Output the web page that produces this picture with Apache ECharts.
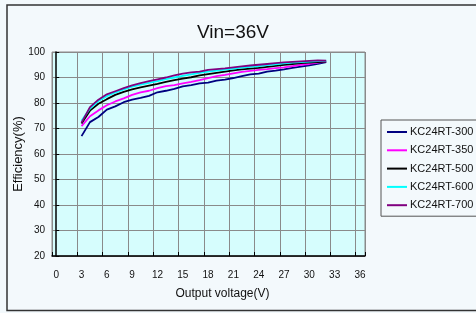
<!DOCTYPE html>
<html>
<head>
<meta charset="utf-8">
<script src="https://cdn.jsdelivr.net/npm/echarts@6/dist/echarts.min.js"></script>
<style>
  html, body { margin: 0; padding: 0; background: #f3f9fc; overflow: hidden; }
  #main { width: 476px; height: 313px; }
</style>
</head>
<body>
<div id="main"></div>
<script>
// output voltage (V)
var voltages = [3, 4, 5, 6, 7, 8, 9, 10, 11, 12, 13, 14, 15, 16, 17, 18, 19, 20, 21, 22, 23, 24, 25, 26, 27, 28, 29, 30, 31, 32]
var xTicks = [0, 3, 6, 9, 12, 15, 18, 21, 24, 27, 30, 33, 36]
var seriesNames = ['KC24RT-300', 'KC24RT-350', 'KC24RT-500', 'KC24RT-600', 'KC24RT-700']
var seriesColors = ['#000080', '#ff00ff', '#000000', '#00ffff', '#800080']

// efficiency (%)
var eff300 = [67.0, 72.5, 74.5, 77.4, 78.7, 80.3, 81.3, 82.0, 82.8, 84.2, 84.8, 85.5, 86.5, 87.0, 87.7, 88.0, 88.8, 89.2, 89.8, 90.5, 91.2, 91.5, 92.3, 92.7, 93.2, 93.8, 94.3, 94.8, 95.3, 96.0]
var eff350 = [70.9, 74.8, 77.1, 79.1, 80.6, 81.8, 83.2, 84.2, 84.8, 85.8, 86.6, 87.0, 87.7, 88.3, 89.0, 89.8, 90.5, 91.0, 91.6, 92.2, 92.6, 93.0, 93.3, 93.7, 94.0, 94.5, 95.0, 95.3, 95.8, 96.2]
var eff500 = [72.0, 77.0, 79.7, 81.5, 83.2, 84.4, 85.3, 86.1, 86.8, 87.5, 88.3, 89.0, 89.6, 90.1, 90.8, 91.3, 91.8, 92.3, 92.8, 93.2, 93.5, 93.8, 94.2, 94.6, 95.0, 95.3, 95.6, 95.8, 96.0, 96.2]
var eff600 = [73.0, 77.8, 80.8, 82.7, 84.1, 85.3, 86.4, 87.2, 87.9, 88.6, 89.4, 90.0, 90.6, 91.2, 91.8, 92.3, 92.7, 93.1, 93.5, 93.9, 94.2, 94.5, 94.9, 95.2, 95.5, 95.8, 96.0, 96.2, 96.4, 96.5]
var eff700 = [72.3, 78.4, 81.3, 83.4, 84.6, 85.8, 86.9, 87.8, 88.6, 89.3, 90.0, 90.8, 91.5, 92.0, 92.3, 93.0, 93.3, 93.6, 94.0, 94.4, 94.7, 95.0, 95.3, 95.6, 95.9, 96.1, 96.3, 96.5, 96.7, 96.6]
var allEff = [eff300, eff350, eff500, eff600, eff700]

var font = '"Liberation Sans", Arial, sans-serif'

var myChart = echarts.init(document.getElementById('main'))

var series = seriesNames.map(function (name, i) {
  return {
    name: name,
    type: 'line',
    xAxisIndex: 0,
    symbol: 'none',
    lineStyle: { width: 1.8, color: seriesColors[i] },
    itemStyle: { color: seriesColors[i] },
    data: voltages.map(function (v, k) { return [v, allEff[i][k]] })
  }
})

myChart.setOption({
  backgroundColor: '#f3f9fc',
  animation: false,
  title: {
    text: 'Vin=36V',
    left: 228,
    textAlign: 'center',
    top: 18,
    textStyle: { fontFamily: font, fontSize: 19, fontWeight: 'normal', color: '#111' }
  },
  graphic: [{
    // outer frame, open on the right like the cropped source
    type: 'polyline',
    shape: { points: [[600, 5], [7, 5], [7, 310.5], [600, 310.5]] },
    style: { fill: 'none', stroke: '#333', lineWidth: 1.5 },
    silent: true,
    z: -1
  }],
  grid: {
    left: 52, top: 52, width: 313, height: 204,
    outerBoundsMode: 'none',
    containLabel: false,
    show: true,
    backgroundColor: '#d6fdfd',
    borderColor: '#8a8a8a',
    borderWidth: 1
  },
  legend: {
    orient: 'vertical',
    left: 381,
    top: 120,
    padding: [6, 16, 5, 6],
    icon: 'rect',
    itemGap: 6.3,
    itemWidth: 20,
    itemHeight: 2,
    backgroundColor: '#f3f9fc',
    borderColor: '#555',
    borderWidth: 1,
    borderRadius: 0,
    textStyle: { fontFamily: font, fontSize: 11, lineHeight: 12, color: '#111', padding: [0, 0, 0, -2] },
    data: seriesNames
  },
  xAxis: [
    {
      // data axis, labels sit half a volt right of the gridlines like the source
      type: 'value',
      min: -0.5,
      max: 36.6,
      name: 'Output voltage(V)',
      nameLocation: 'middle',
      nameGap: 32,
      nameTextStyle: { fontFamily: font, fontSize: 12, color: '#111', padding: [0, 0, 0, 28] },
      axisLine: { show: false },
      axisTick: { show: false },
      splitLine: { show: false },
      axisLabel: {
        customValues: xTicks,
        margin: 14,
        fontFamily: font,
        fontSize: 10,
        color: '#111'
      }
    },
    {
      // gridline axis
      type: 'value',
      position: 'bottom',
      min: 0,
      max: 37.1,
      interval: 3,
      axisLine: { show: true, onZero: false, lineStyle: { color: '#000', width: 1.5 } },
      axisTick: { show: true, inside: true, length: 4, lineStyle: { color: '#000' } },
      axisLabel: { show: false },
      splitLine: { show: true, lineStyle: { color: '#8a8a8a', width: 1 } }
    }
  ],
  yAxis: {
    type: 'value',
    min: 20,
    max: 100,
    interval: 10,
    name: 'Efficiency(%)',
    nameLocation: 'middle',
    nameGap: 27,
    nameMoveOverlap: false,
    nameTextStyle: { fontFamily: font, fontSize: 13, color: '#111' },
    axisLine: { show: true, lineStyle: { color: '#000', width: 1.5 } },
    axisTick: { show: true, inside: true, length: 3, lineStyle: { color: '#000' } },
    axisLabel: { margin: 7, fontFamily: font, fontSize: 10, color: '#111' },
    splitLine: { show: true, lineStyle: { color: '#8a8a8a', width: 1 } }
  },
  series: series
})
</script>
</body>
</html>
